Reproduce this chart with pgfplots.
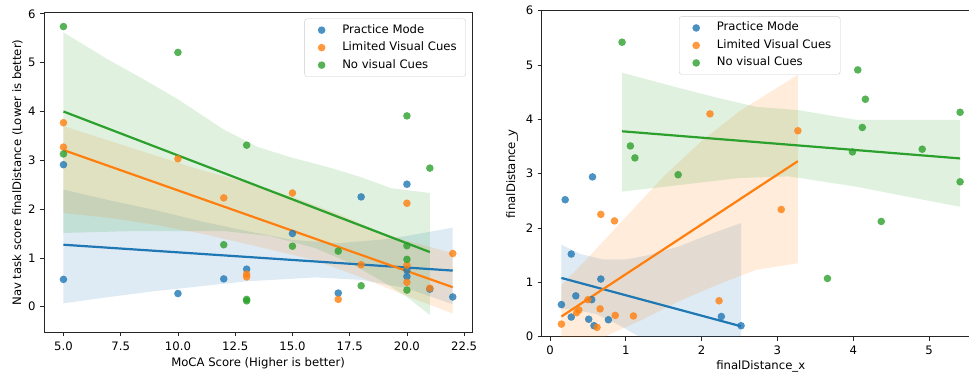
\documentclass[border=0pt]{standalone}
\usepackage{fontspec}
\setmainfont{DejaVu Sans}
\usepackage{pgfplots}
\pgfplotsset{compat=1.18}

\definecolor{tabblue}{HTML}{1F77B4}
\definecolor{taborange}{HTML}{FF7F0E}
\definecolor{tabgreen}{HTML}{2CA02C}

\newcommand{\lbl}{\fontsize{11.7}{14}\selectfont}

\pgfplotsset{
  regstyle/.style={
    scale only axis,
    axis line style={line width=0.8bp, black!85},
    tick align=outside, tick pos=left,
    major tick length=4bp,
    every tick/.style={black!85, line width=0.8bp},
    tick label style={font=\lbl},
    label style={font=\lbl},
    /pgf/number format/assume math mode=true,
    xticklabel style={anchor=north, inner sep=0bp, yshift=-5.5bp},
    yticklabel style={anchor=east, inner sep=0bp, xshift=-4.3bp},
    legend cell align=left,
    legend style={font=\lbl, draw=black!20, rounded corners=2.5bp,
      fill=white, fill opacity=0.8, text opacity=1,
      inner xsep=8bp, inner ysep=4.35bp, row sep=3.5bp,
      nodes={inner sep=1bp, text height=9bp, text depth=3bp}},
    legend image code/.code={\path[draw=none, fill=none] (0bp,-4bp) rectangle (28.6bp,4bp);
      \path[##1, draw=none] plot coordinates {(9bp,0bp)};},
  },
  dots/.style={only marks, mark=*, mark size=3.8bp, color=#1,
    mark options={draw opacity=0, line width=0bp, fill=#1, fill opacity=0.8}},
  band/.style={draw=none, fill=#1, fill opacity=0.15, forget plot},
  fit/.style={#1, line width=2.2bp, forget plot},
}

\begin{document}
\begin{tikzpicture}

% ---------------- MoCA score vs navigation score ----------------
\begin{axis}[regstyle,
  at={(44bp,43.9bp)}, anchor=south west,
  width=428.2bp, height=319.2bp,
  xmin=4.15, xmax=22.85, ymin=-0.52, ymax=6.02,
  xtick={5,7.5,...,22.5}, ytick={0,...,6},
  xticklabel style={/pgf/number format/.cd, fixed, fixed zerofill, precision=1},
  xlabel={MoCA Score (Higher is better)},
  ylabel={Nav task score finalDistance (Lower is better)},
  xlabel style={at={(axis description cs:0.5,-0.0968)}, anchor=center},
  ylabel style={at={(axis description cs:-0.0621,0.5)}, anchor=center, rotate=0},
  legend style={at={(1,1)}, anchor=north east, xshift=-6.3bp, yshift=-5.7bp},
]
% confidence bands
\addplot[band=tabblue] coordinates {
  (5,2.40) (7,2.18) (9,1.98) (11,1.75) (13,1.55) (15,1.37) (17,1.30) (19,1.38) (20,1.45) (22,1.62)
  (22,0.05) (20,0.38) (18,0.55) (16,0.60) (13,0.52) (11,0.42) (9,0.32) (7,0.20) (5,0.07)};
\addplot[band=taborange] coordinates {
  (5,3.70) (7,3.40) (9,3.10) (11,2.80) (13,2.55) (15,2.25) (17,1.90) (19,1.50) (20,1.35) (22,1.10)
  (22,-0.14) (20,0.22) (18,0.60) (16,0.95) (13.5,1.23) (11,1.50) (9,1.68) (7,1.82) (5,1.92)};
\addplot[band=tabgreen] coordinates {
  (5,5.62) (7,5.05) (8.5,4.66) (10,4.25) (12,3.63) (13.5,3.27) (15,3.05) (16.4,2.88) (17.9,2.67) (19.3,2.43) (21,2.33)
  (21,-0.17) (20,0.20) (19,0.50) (17.5,0.90) (16,1.20) (14,1.45) (12,1.55) (10,1.55) (8,1.55) (5,1.51)};
% regression lines
\addplot[fit=tabblue] coordinates {(5,1.27) (22,0.74)};
\addplot[fit=taborange] coordinates {(5,3.21) (22,0.40)};
\addplot[fit=tabgreen] coordinates {(5,4.00) (21,1.12)};
% observations
\addplot[dots=tabblue] coordinates {
  (5,2.91) (5,0.56) (10,0.27) (12,0.57) (13,0.77) (15,1.50) (17,0.28)
  (18,2.25) (20,2.51) (20,0.75) (20,0.62) (21,0.36) (22,0.20)};
\addlegendentry{Practice Mode}
\addplot[dots=taborange] coordinates {
  (5,3.77) (5,3.27) (10,3.03) (12,2.23) (13,0.67) (13,0.61) (15,2.33)
  (17,0.15) (18,0.86) (20,2.12) (20,0.85) (20,0.50) (21,0.38) (22,1.09)};
\addlegendentry{Limited Visual Cues}
\addplot[dots=tabgreen] coordinates {
  (5,5.74) (5,3.13) (10,5.21) (12,1.27) (13,3.31) (13,0.15) (13,0.12) (15,1.24)
  (17,1.14) (18,0.43) (20,3.91) (20,1.25) (20,0.97) (20,0.34) (21,2.84)};
\addlegendentry{No visual Cues}
\end{axis}

% ---------------- final distance, x vs y ----------------
\begin{axis}[regstyle,
  at={(541.7bp,39.4bp)}, anchor=south west,
  width=438.1bp, height=325.9bp,
  xmin=-0.11, xmax=5.67, ymin=0, ymax=6,
  xtick={0,...,5}, ytick={0,...,6},
  xlabel={finalDistance\_x},
  ylabel={finalDistance\_y},
  xlabel style={at={(axis description cs:0.5,-0.0927)}, anchor=center},
  ylabel style={at={(axis description cs:-0.0678,0.5)}, anchor=center, rotate=0},
  legend style={at={(0,1)}, anchor=north west, xshift=137.3bp, yshift=-5.7bp},
]
\addplot[band=tabblue] coordinates {
  (0.15,1.69) (0.4,1.52) (0.7,1.42) (1.0,1.42) (1.3,1.50) (1.7,1.66) (2.1,1.88) (2.52,2.09)
  (2.52,-1.2) (2.0,-0.7) (1.5,-0.25) (1.15,0.02) (0.9,0.22) (0.6,0.42) (0.3,0.50) (0.15,0.50)};
\addplot[band=taborange] coordinates {
  (0.15,0.95) (0.5,1.45) (1.0,2.20) (1.5,2.95) (2.0,3.60) (2.5,4.15) (3.27,4.82)
  (3.27,1.35) (2.72,1.23) (2.2,0.95) (1.7,0.65) (1.2,0.30) (0.8,0.05) (0.4,-0.2) (0.15,-0.35)};
\addplot[band=tabgreen] coordinates {
  (0.95,4.86) (1.64,4.60) (2.2,4.40) (2.72,4.23) (3.27,4.17) (4.04,3.99) (5.41,3.99)
  (5.41,2.39) (4.7,2.58) (4.04,2.76) (3.15,2.95) (2.5,2.92) (1.64,2.78) (0.95,2.67)};
\addplot[fit=tabblue] coordinates {(0.15,1.08) (2.52,0.19)};
\addplot[fit=taborange] coordinates {(0.15,0.37) (3.27,3.23)};
\addplot[fit=tabgreen] coordinates {(0.95,3.78) (5.41,3.28)};
\addplot[dots=tabblue] coordinates {
  (0.56,2.94) (0.20,2.52) (0.28,1.52) (0.67,1.06) (0.34,0.75) (0.15,0.59) (0.55,0.68)
  (0.28,0.36) (0.51,0.32) (0.77,0.31) (0.58,0.20) (2.26,0.37) (2.52,0.20)};
\addlegendentry{Practice Mode}
\addplot[dots=taborange] coordinates {
  (2.11,4.10) (0.67,2.25) (0.85,2.13) (0.50,0.68) (0.35,0.44) (0.38,0.49) (0.66,0.51)
  (0.86,0.39) (1.10,0.38) (0.62,0.17) (0.15,0.23) (2.23,0.66) (3.05,2.34) (3.27,3.79)};
\addlegendentry{Limited Visual Cues}
\addplot[dots=tabgreen] coordinates {
  (0.95,5.42) (1.06,3.51) (1.12,3.29) (1.69,2.98) (4.06,4.91) (4.16,4.37) (5.41,4.13)
  (4.12,3.85) (3.99,3.40) (4.91,3.45) (5.41,2.85) (4.37,2.12) (3.66,1.07)};
\addlegendentry{No visual Cues}
\end{axis}

\pgfresetboundingbox
\useasboundingbox (0,0) rectangle (969bp,376bp);
\end{tikzpicture}
\end{document}
